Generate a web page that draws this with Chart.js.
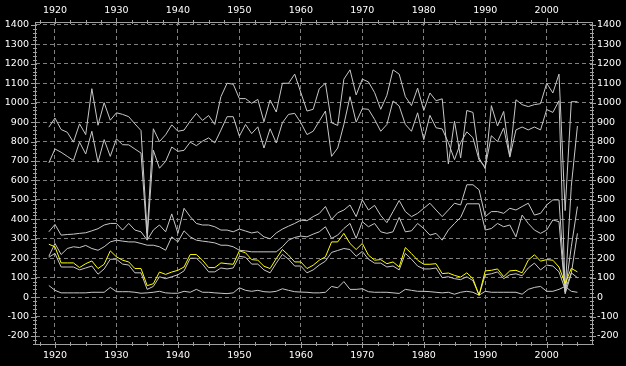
<!DOCTYPE html>
<html>
<head>
<meta charset="utf-8">
<script src="https://cdn.jsdelivr.net/npm/chart.js@4"></script>
<style>
    html, body { margin: 0; padding: 0; background: #000; }
    #wrap { width: 626px; height: 366px; position: relative; }
</style>
</head>
<body>
<div id="wrap"><canvas id="lineChart"></canvas></div>
<script>
// years on the x axis
const years = [1919, 1920, 1921, 1922, 1923, 1924, 1925, 1926, 1927, 1928, 1929,
    1930, 1931, 1932, 1933, 1934, 1935, 1936, 1937, 1938, 1939,
    1940, 1941, 1942, 1943, 1944, 1945, 1946, 1947, 1948, 1949,
    1950, 1951, 1952, 1953, 1954, 1955, 1956, 1957, 1958, 1959,
    1960, 1961, 1962, 1963, 1964, 1965, 1966, 1967, 1968, 1969,
    1970, 1971, 1972, 1973, 1974, 1975, 1976, 1977, 1978, 1979,
    1980, 1981, 1982, 1983, 1984, 1985, 1986, 1987, 1988, 1989,
    1990, 1991, 1992, 1993, 1994, 1995, 1996, 1997, 1998, 1999,
    2000, 2001, 2002, 2003, 2004, 2005];

// top white line
const seriesA = [874, 921, 862, 848, 797, 891, 836, 1072, 884, 1000, 910,
    948, 940, 928, 891, 857, 330, 866, 800, 835, 886,
    853, 859, 905, 945, 909, 934, 888, 1031, 1100, 1095,
    1021, 1021, 997, 1017, 902, 1014, 952, 1100, 1100, 1147,
    1052, 957, 966, 1072, 1100, 897, 883, 1121, 1169, 1040,
    1121, 1107, 1052, 966, 1038, 1169, 1147, 1031, 985, 1075,
    960, 1050, 1010, 1020, 685, 905, 716, 960, 950, 716,
    660, 985, 880, 955, 725, 1015, 990, 980, 990, 995,
    1100, 1050, 1147, 445, 1005, 1005];

// second white line
const seriesB = [690, 762, 745, 724, 703, 797, 736, 853, 693, 810, 724,
    814, 784, 783, 762, 741, 300, 756, 663, 698, 772,
    750, 755, 797, 779, 802, 819, 793, 859, 928, 928,
    828, 888, 841, 876, 767, 866, 793, 897, 940, 945,
    897, 836, 853, 905, 957, 724, 767, 888, 1031, 900,
    969, 966, 914, 853, 888, 1009, 983, 888, 853, 948,
    810, 935, 871, 865, 795, 707, 795, 850, 820, 705,
    670, 830, 800, 870, 720, 860, 875, 860, 875, 860,
    965, 950, 1010, 30, 570, 880];

// third line (300-500)
const seriesC = [336, 374, 319, 322, 324, 328, 331, 341, 352, 371, 379,
    379, 345, 379, 345, 336, 293, 345, 371, 336, 428,
    328, 457, 414, 379, 371, 371, 362, 345, 345, 336,
    350, 340, 330, 336, 310, 300, 330, 350, 365, 379,
    396, 393, 414, 430, 466, 400, 434, 448, 474, 414,
    500, 448, 472, 420, 383, 440, 497, 440, 414, 431,
    457, 483, 448, 414, 448, 483, 474, 578, 578, 552,
    414, 440, 440, 431, 457, 448, 466, 483, 422, 431,
    474, 500, 500, 25, 259, 466];

// fourth line (200-400)
const seriesD = [210, 276, 219, 250, 259, 255, 266, 250, 241, 259, 284,
    293, 288, 284, 284, 276, 267, 267, 259, 241, 310,
    284, 341, 310, 293, 288, 284, 279, 267, 267, 259,
    241, 238, 233, 233, 233, 233, 233, 259, 293, 307,
    314, 310, 324, 336, 362, 302, 319, 353, 379, 302,
    388, 362, 379, 336, 328, 336, 410, 336, 341, 379,
    353, 319, 328, 293, 345, 379, 410, 480, 480, 480,
    345, 353, 379, 362, 371, 310, 422, 379, 345, 328,
    345, 397, 388, 17, 121, 328];

// yellow line
const seriesY = [272, 259, 176, 176, 176, 152, 172, 186, 147, 169, 238,
    207, 190, 181, 147, 147, 59, 69, 129, 117, 129,
    138, 155, 219, 219, 190, 152, 152, 176, 172, 169,
    238, 228, 193, 190, 159, 147, 198, 245, 216, 181,
    181, 147, 164, 190, 207, 284, 284, 328, 276, 245,
    276, 216, 190, 193, 172, 181, 155, 255, 224, 190,
    169, 169, 172, 121, 124, 112, 103, 125, 95, 10,
    135, 138, 145, 105, 135, 138, 125, 190, 218, 185,
    193, 190, 155, 70, 148, 130];

// grey line just under the yellow one
const seriesE = [205, 225, 155, 155, 155, 140, 150, 160, 118, 145, 195,
    195, 170, 165, 125, 125, 40, 55, 105, 95, 105,
    115, 135, 200, 200, 170, 130, 130, 150, 145, 150,
    210, 205, 170, 170, 140, 125, 175, 220, 195, 160,
    160, 125, 140, 165, 185, 230, 240, 250, 245, 210,
    235, 195, 175, 175, 155, 160, 140, 225, 195, 160,
    145, 145, 150, 100, 105, 95, 90, 105, 85, 10,
    115, 120, 130, 95, 115, 120, 110, 150, 175, 140,
    165, 160, 130, 40, 125, 100];

// bottom line
const seriesF = [60, 35, 22, 22, 22, 22, 22, 25, 25, 25, 50,
    28, 28, 28, 25, 20, 22, 25, 30, 22, 20,
    20, 30, 25, 40, 25, 25, 22, 20, 18, 22,
    48, 35, 30, 35, 28, 26, 30, 43, 35, 28,
    26, 25, 22, 22, 25, 55, 48, 80, 40, 40,
    43, 28, 25, 25, 25, 22, 19, 40, 35, 30,
    30, 28, 25, 22, 25, 15, 25, 30, 25, 10,
    30, 25, 25, 25, 25, 25, 15, 40, 50, 55,
    30, 30, 40, 55, 30, 25];

const xTicks = [1920, 1930, 1940, 1950, 1960, 1970, 1980, 1990, 2000];
const yTicks = [-200, -100, 0, 100, 200, 300, 400, 500, 600, 700, 800, 900, 1000, 1100, 1200, 1300, 1400];

var lineChartCtx = document.getElementById("lineChart");

var gridColor = '#808080';
var axisColor = '#a0a0a0';
var lineGrey = '#c8c8c8';
var tickFont = { family: 'DejaVu Sans', size: 9.5 };

function toPoints(values) {
    return values.map(function (v, i) { return { x: years[i], y: v }; });
}

function makeSet(values, color) {
    return {
        data: toPoints(values),
        borderColor: color,
        borderWidth: 1,
        pointRadius: 0,
        tension: 0,
        fill: false
    };
}

// small tick marks on all four sides, minor and major
const axisTicks = {
    id: 'axisTicks',
    afterDraw(chart) {
        const ctx = chart.ctx;
        const a = chart.chartArea;
        const xs = chart.scales.x;
        const ys = chart.scales.y;
        ctx.save();
        ctx.strokeStyle = axisColor;
        ctx.lineWidth = 1;
        ctx.beginPath();
        for (let v = -240; v <= ys.max; v += 20) {
            const y = Math.round(ys.getPixelForValue(v)) + 0.5;
            const len = (v % 100 === 0) ? 4 : 2;
            ctx.moveTo(a.left - len, y); ctx.lineTo(a.left + 2, y);
            ctx.moveTo(a.right - 2, y); ctx.lineTo(a.right + len, y);
        }
        for (let v = 1917.5; v <= xs.max; v += 2.5) {
            const x = Math.round(xs.getPixelForValue(v)) + 0.5;
            const len = (v % 10 === 0) ? 4 : 2;
            ctx.moveTo(x, a.top - len); ctx.lineTo(x, a.top + 2);
            ctx.moveTo(x, a.bottom - 2); ctx.lineTo(x, a.bottom + len);
        }
        ctx.stroke();
        ctx.restore();
    }
};

function yAxis(position, width, pad) {
    return {
        type: 'linear',
        position: position,
        min: -241,
        max: 1415,
        afterBuildTicks: function (s) { s.ticks = yTicks.map(function (v) { return { value: v }; }); },
        afterFit: function (s) { s.width = width; },
        grid: { color: gridColor, drawTicks: false, drawOnChartArea: position === 'left' },
        border: { color: axisColor, dash: [4, 3] },
        ticks: {
            color: '#ffffff', font: tickFont, padding: pad, autoSkip: false,
            callback: function (v) { return String(v); }
        }
    };
}

function xAxis(position, height, pad) {
    return {
        type: 'linear',
        position: position,
        min: 1916.75,
        max: 2007.37,
        afterBuildTicks: function (s) { s.ticks = xTicks.map(function (v) { return { value: v }; }); },
        afterFit: function (s) { s.height = height; },
        grid: { color: gridColor, drawTicks: false, drawOnChartArea: position === 'bottom' },
        border: { color: axisColor, dash: [4, 3] },
        ticks: {
            color: '#ffffff', font: tickFont, padding: pad, autoSkip: false, maxRotation: 0,
            callback: function (v) { return String(v); }
        }
    };
}

new Chart(lineChartCtx, {
    type: 'line',
    data: {
        datasets: [
            makeSet(seriesY, '#ffff00'),
            makeSet(seriesA, lineGrey),
            makeSet(seriesB, lineGrey),
            makeSet(seriesC, lineGrey),
            makeSet(seriesD, lineGrey),
            makeSet(seriesE, lineGrey),
            makeSet(seriesF, lineGrey)
        ]
    },
    options: {
        responsive: true,
        maintainAspectRatio: false,
        animation: false,
        layout: { padding: 0 },
        plugins: {
            legend: { display: false },
            tooltip: { enabled: false }
        },
        scales: {
            x: xAxis('bottom', 22, 6),
            x2: xAxis('top', 22, 6),
            y: yAxis('left', 35, 6),
            y2: yAxis('right', 34, 5)
        }
    },
    plugins: [axisTicks]
});
</script>
</body>
</html>
